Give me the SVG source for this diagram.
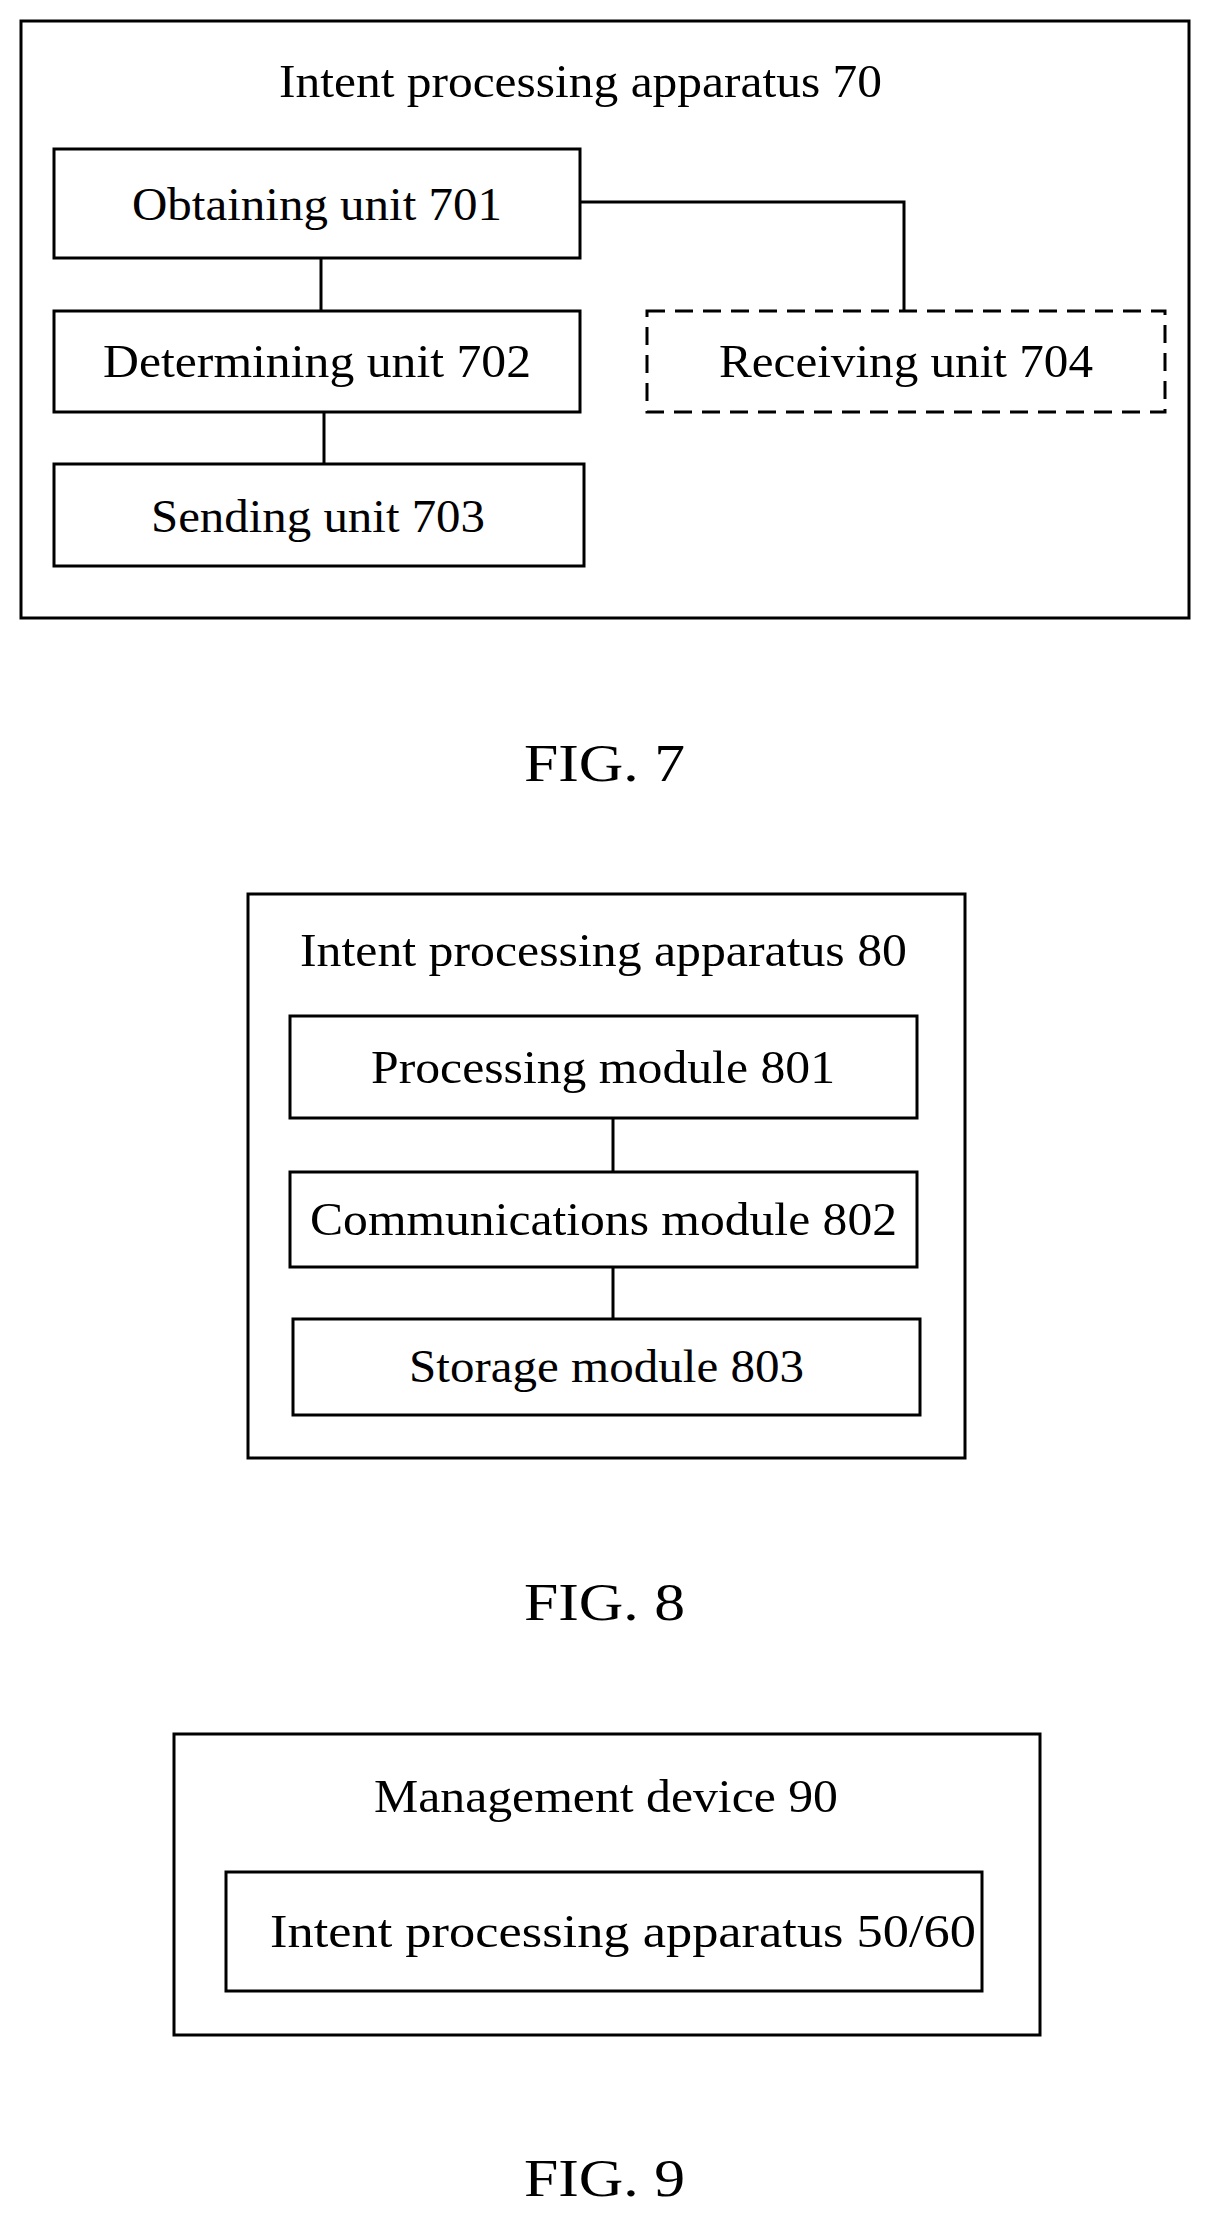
<svg xmlns="http://www.w3.org/2000/svg" width="1210" height="2219" viewBox="0 0 1210 2219">
<style>
rect{fill:none;stroke:#000;stroke-width:3}
.d{stroke-dasharray:18 10}
line,polyline{fill:none;stroke:#000;stroke-width:3}
text{font-family:"Liberation Serif",serif;font-size:47px;fill:#000}
.f{font-size:52px}
</style>
<rect width="1210" height="2219" fill="#fff" style="fill:#fff;stroke:none"/>
<g id="fig7">
<rect x="21" y="21" width="1168" height="597"/>
<text x="279" y="97" textLength="603" lengthAdjust="spacingAndGlyphs">Intent processing apparatus 70</text>
</g>
<g id="n701"><rect x="54" y="149" width="526" height="109"/><text x="132" y="220" textLength="370" lengthAdjust="spacingAndGlyphs">Obtaining unit 701</text></g>
<g id="n702"><rect x="54" y="311" width="526" height="101"/><text x="103" y="377" textLength="428" lengthAdjust="spacingAndGlyphs">Determining unit 702</text></g>
<g id="n703"><rect x="54" y="464" width="530" height="102"/><text x="151" y="532" textLength="334" lengthAdjust="spacingAndGlyphs">Sending unit 703</text></g>
<g id="n704"><rect class="d" x="647" y="311" width="518" height="101"/><text x="719" y="377" textLength="374" lengthAdjust="spacingAndGlyphs">Receiving unit 704</text></g>
<text class="f" x="524" y="781" textLength="161" lengthAdjust="spacingAndGlyphs">FIG. 7</text>
<g id="fig8">
<rect x="248" y="894" width="717" height="564"/>
<text x="300" y="966" textLength="607" lengthAdjust="spacingAndGlyphs">Intent processing apparatus 80</text>
</g>
<g id="n801"><rect x="290" y="1016" width="627" height="102"/><text x="371" y="1083" textLength="464" lengthAdjust="spacingAndGlyphs">Processing module 801</text></g>
<g id="n802"><rect x="290" y="1172" width="627" height="95"/><text x="310" y="1235" textLength="587" lengthAdjust="spacingAndGlyphs">Communications module 802</text></g>
<g id="n803"><rect x="293" y="1319" width="627" height="96"/><text x="409" y="1382" textLength="395" lengthAdjust="spacingAndGlyphs">Storage module 803</text></g>
<text class="f" x="524" y="1620" textLength="161" lengthAdjust="spacingAndGlyphs">FIG. 8</text>
<g id="fig9">
<rect x="174" y="1734" width="866" height="301"/>
<text x="374" y="1812" textLength="464" lengthAdjust="spacingAndGlyphs">Management device 90</text>
</g>
<g id="n9"><rect x="226" y="1872" width="756" height="119"/><text x="270" y="1947" textLength="706" lengthAdjust="spacingAndGlyphs">Intent processing apparatus 50/60</text></g>
<text class="f" x="524" y="2196" textLength="161" lengthAdjust="spacingAndGlyphs">FIG. 9</text>
<g id="connectors">
<line x1="321" y1="258" x2="321" y2="311"/>
<line x1="324" y1="412" x2="324" y2="464"/>
<polyline points="580,202 904,202 904,311"/>
<line x1="613" y1="1118" x2="613" y2="1172"/>
<line x1="613" y1="1267" x2="613" y2="1319"/>
</g>
</svg>
